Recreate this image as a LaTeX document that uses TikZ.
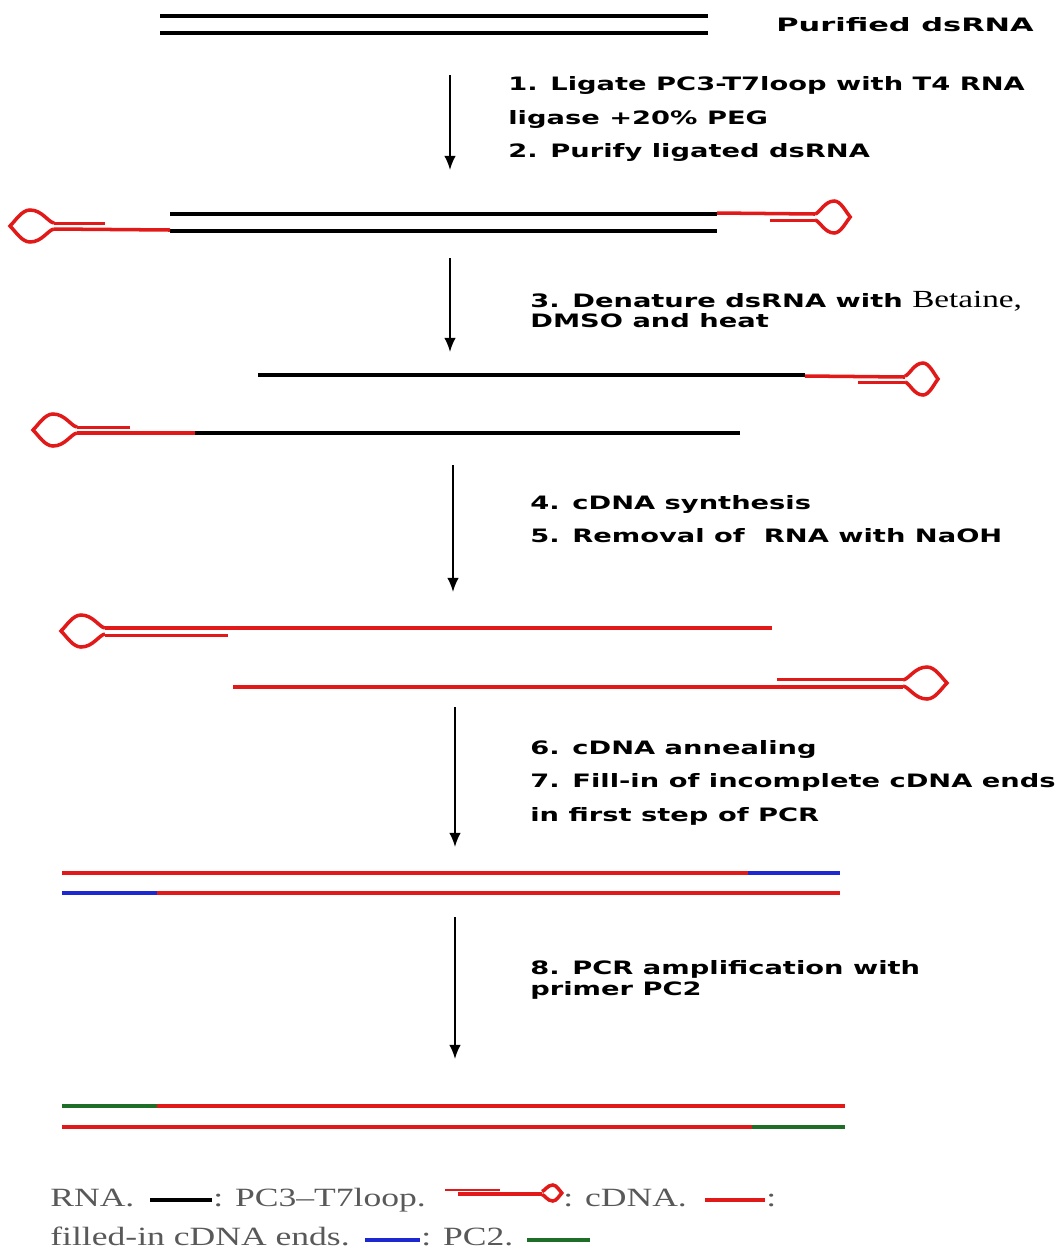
\documentclass[tikz,border=0pt]{standalone}
\usepackage{fontspec}
\setmainfont{Liberation Serif}
\newfontfamily\stepfont[FakeStretch=1.48]{DejaVu Sans Bold}
\newfontfamily\titlefont[FakeStretch=1.65]{DejaVu Sans Bold}
\newfontfamily\legendfont[FakeStretch=1.35]{Liberation Serif}
\usetikzlibrary{arrows.meta}

\definecolor{rnared}{RGB}{225,25,25}
\definecolor{fillblue}{RGB}{30,40,210}
\definecolor{pcgreen}{RGB}{30,110,40}

\tikzset{
  strand/.style={line width=2.7pt},
  redline/.style={draw=rnared, line width=2pt},
  armline/.style={draw=rnared, line width=1.7pt},
  steparrow/.style={-{Latex[length=8pt,width=6.5pt]}, line width=1pt},
  steptext/.style={anchor=base west, inner sep=0pt, font=\stepfont\fontsize{10.5}{13}\selectfont},
  legendtext/.style={anchor=base west, inner sep=0pt, text=black!65, font=\legendfont\fontsize{15}{17}\selectfont},
  tloop/.pic={
    \draw[rnared, line width=2pt] (0,-3) .. controls (-6,-4) and (-12,-16) .. (-24,-16)
      .. controls (-32,-16) and (-38,-6) .. (-44,0)
      .. controls (-38,6) and (-32,16) .. (-24,16)
      .. controls (-12,16) and (-6,4) .. (0,3);
  }
}

\begin{document}
\begin{tikzpicture}[x=0.02cm, y=-0.02cm]
  \useasboundingbox (0,0) rectangle (1060,1249);

  % Purified dsRNA
  \draw[strand] (160,16) -- (708,16);
  \draw[strand] (160,33) -- (708,33);
  \node[steptext, font=\titlefont\fontsize{10.5}{13}\selectfont] (tpur) at (776,31) {Purified dsRNA};

  % Step 1 + 2
  \coordinate (a1s) at (450,75);
  \coordinate (a1e) at (450,170);
  \draw[steparrow] (a1s) -- (a1e);
  \node[steptext] (t1a) at (508,90) {1. Ligate PC3-T7loop with T4 RNA};
  \node[steptext] (t1b) at (508,124) {ligase +20\% PEG};
  \node[steptext] (t1c) at (508,157) {2. Purify ligated dsRNA};

  % Ligated dsRNA
  \draw[strand] (170,214) -- (717,214);
  \draw[strand] (170,231) -- (717,231);
  \pic at (54,226) {tloop};
  \draw[armline] (54,223) -- (105,223);
  \draw[redline] (54,229) -- (170,230);
  \pic[xscale=-0.8] at (815,217) {tloop};
  \draw[redline] (717,213) -- (815,214);
  \draw[armline] (770,220) -- (815,220);

  % Step 3
  \coordinate (a2s) at (450,258);
  \coordinate (a2e) at (450,352);
  \draw[steparrow] (a2s) -- (a2e);
  \node[steptext] (t3a) at (530,307) {3. Denature dsRNA with {\legendfont\fontsize{14}{16}\selectfont Betaine,}};
  \node[steptext] (t3b) at (530,327) {DMSO and heat};

  % Denatured strands
  \draw[strand] (258,375) -- (805,375);
  \draw[redline] (805,376) -- (905,377);
  \draw[armline] (858,382) -- (905,382);
  \pic[xscale=-0.75] at (905,379) {tloop};
  \pic at (77,430) {tloop};
  \draw[armline] (77,427) -- (130,427);
  \draw[redline] (77,433) -- (195,433);
  \draw[strand] (195,433) -- (740,433);

  % Step 4 + 5
  \coordinate (a3s) at (453,465);
  \coordinate (a3e) at (453,592);
  \draw[steparrow] (a3s) -- (a3e);
  \node[steptext] (t4a) at (530,509) {4. cDNA synthesis};
  \node[steptext] (t5a) at (530,542) {5. Removal of \ RNA with NaOH};

  % cDNA strands
  \pic at (105,631) {tloop};
  \draw[redline] (105,628) -- (772,628);
  \draw[armline] (105,635) -- (228,635);
  \pic[xscale=-1] at (903,683) {tloop};
  \draw[armline] (777,679) -- (903,679);
  \draw[redline] (233,687) -- (903,687);

  % Step 6 + 7
  \coordinate (a4s) at (455,707);
  \coordinate (a4e) at (455,847);
  \draw[steparrow] (a4s) -- (a4e);
  \node[steptext] (t6a) at (530,754) {6. cDNA annealing};
  \node[steptext] (t7a) at (530,787) {7. Fill-in of incomplete cDNA ends};
  \node[steptext] (t7b) at (530,821) {in first step of PCR};

  % Annealed cDNA with filled-in ends
  \draw[strand, rnared] (62,873) -- (748,873);
  \draw[strand, fillblue] (748,873) -- (840,873);
  \draw[strand, fillblue] (62,893) -- (157,893);
  \draw[strand, rnared] (157,893) -- (840,893);

  % Step 8
  \coordinate (a5s) at (455,917);
  \coordinate (a5e) at (455,1059);
  \draw[steparrow] (a5s) -- (a5e);
  \node[steptext] (t8a) at (530,974) {8. PCR amplification with};
  \node[steptext] (t8b) at (530,995) {primer PC2};

  % PCR product
  \draw[strand, pcgreen] (62,1106) -- (157,1106);
  \draw[strand, rnared] (157,1106) -- (845,1106);
  \draw[strand, rnared] (62,1127) -- (752,1127);
  \draw[strand, pcgreen] (752,1127) -- (845,1127);

  % Legend
  \node[legendtext] (lrna) at (50,1206) {RNA.};
  \draw[strand] (150,1200) -- (212,1200);
  \node[legendtext] (lloop) at (213,1206) {: PC3–T7loop.};
  \draw[armline, line width=1pt] (445,1190) -- (500,1190);
  \draw[redline] (458,1194) -- (542,1194);
  \pic[xscale=-0.45, yscale=0.5] at (542,1193) {tloop};
  \node[legendtext] (lcdna) at (563,1206) {: cDNA.};
  \draw[strand, rnared] (705,1200) -- (765,1200);
  \node[legendtext] (lcol) at (766,1206) {:};
  \node[legendtext] (lfill) at (50,1245) {filled-in cDNA ends.};
  \draw[strand, fillblue] (365,1240) -- (420,1240);
  \node[legendtext] (lpc) at (421,1245) {: PC2.};
  \draw[strand, pcgreen] (527,1240) -- (590,1240);
\end{tikzpicture}
\end{document}
